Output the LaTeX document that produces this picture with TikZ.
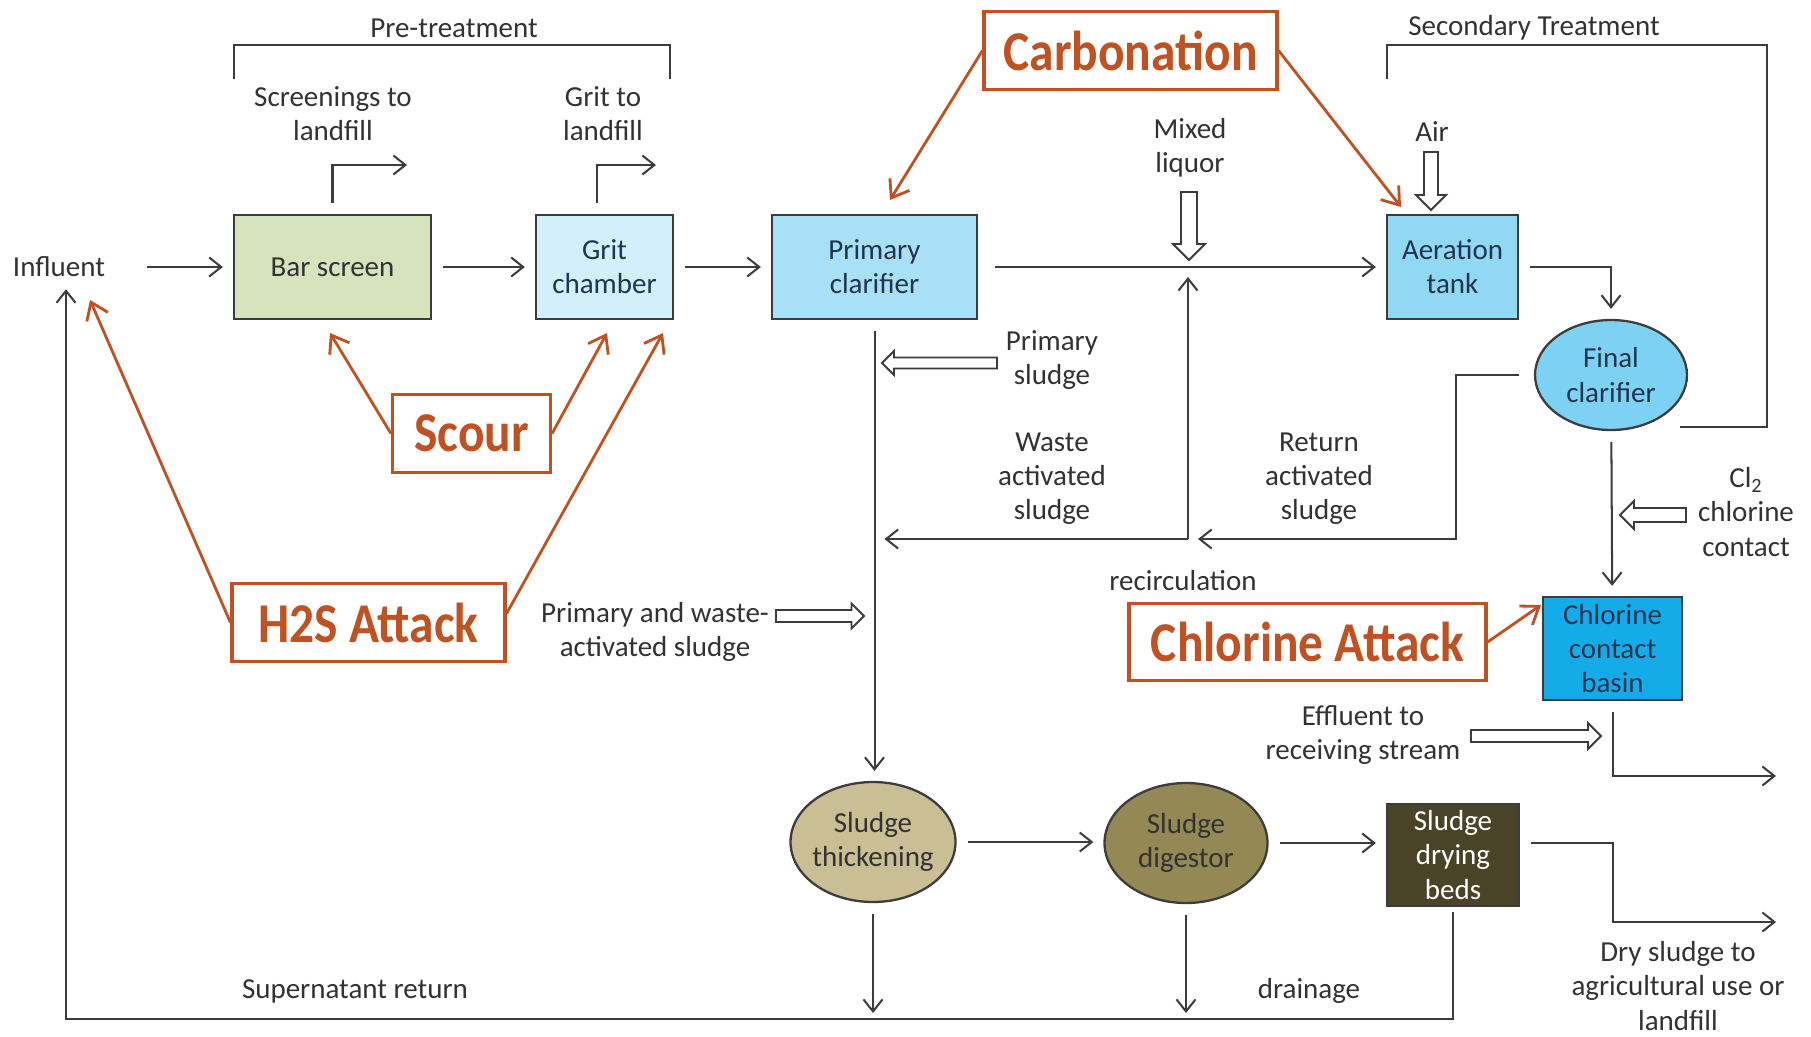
\documentclass[tikz,border=0pt]{standalone}
\usepackage{fontspec}
\setmainfont{Carlito}
\newfontfamily\calloutfont[FakeStretch=0.88]{Carlito}
\usetikzlibrary{arrows.meta,shapes.geometric}
\definecolor{linegray}{RGB}{60,60,60}
\definecolor{textgray}{RGB}{50,50,50}
\definecolor{navytext}{RGB}{30,52,80}
\definecolor{attack}{RGB}{193,81,32}
\definecolor{barfill}{RGB}{215,227,188}
\definecolor{gritfill}{RGB}{210,239,251}
\definecolor{primfill}{RGB}{168,225,247}
\definecolor{aerfill}{RGB}{145,216,245}
\definecolor{finfill}{RGB}{125,210,243}
\definecolor{basinfill}{RGB}{20,172,232}
\definecolor{thkfill}{RGB}{201,190,148}
\definecolor{digfill}{RGB}{148,137,84}
\definecolor{bedfill}{RGB}{73,67,40}
\tikzset{
  pics/hollowarrow/.style args={#1/#2/#3}{code={
    \draw[draw=linegray, line width=1.1pt, fill=white] (0,-#2) -- ({#1-#3},-#2) -- ({#1-#3},-#3) -- (#1,0) -- ({#1-#3},#3) -- ({#1-#3},#2) -- (0,#2) -- cycle;
  }}
}

\begin{document}
\begin{tikzpicture}[x=0.02cm, y=-0.02cm,
    font=\fontsize{16.5}{19.4}\selectfont, text=textgray,
    box/.style={draw=linegray, line width=1.3pt, align=center, minimum width=#1, minimum height=2.08cm, inner sep=2pt},
    tank/.style={ellipse, draw=linegray, line width=1.3pt, align=center, inner sep=1pt},
    lbl/.style={align=center, inner sep=1pt},
    flow/.style={draw=linegray, line width=1.15pt, -{Straight Barb[length=2.4mm,width=3.8mm]}, shorten <=0.22cm, shorten >=0.2cm},
    plain/.style={draw=linegray, line width=1.15pt},
    callout/.style={draw=attack, line width=1.8pt, text=attack, minimum width=#1, minimum height=1.55cm,
      font=\calloutfont\bfseries\fontsize{32}{34}\selectfont},
    hit/.style={draw=attack, line width=1.6pt, -{Straight Barb[length=3.2mm,width=4.6mm]}}]
  \useasboundingbox (0,0) rectangle (1811,1036);

  % Process units
  \node[box=3.94cm, fill=barfill] (barscreen) at (332.5,267) {Bar screen};
  \node[box=2.74cm, fill=gritfill, text=navytext] (grit) at (604.5,267) {Grit\\chamber};
  \node[box=4.1cm, fill=primfill, text=navytext] (primary) at (874.5,267) {Primary\\clarifier};
  \node[box=2.62cm, fill=aerfill, text=navytext] (aeration) at (1452.5,267) {Aeration\\tank};
  \node[tank, fill=finfill, text=navytext, minimum width=3.04cm, minimum height=2.2cm] (final) at (1611,375) {Final\\clarifier};
  \node[box=2.78cm, minimum height=2.06cm, fill=basinfill, text=navytext] (basin) at (1612.5,648.5) {Chlorine\\contact\\basin};
  \node[tank, fill=thkfill, inner xsep=-2.5pt, minimum width=3.3cm, minimum height=2.4cm] (thickening) at (873,842) {Sludge\\thickening};
  \node[tank, fill=digfill, minimum width=3.26cm, minimum height=2.4cm] (digestor) at (1186,843) {Sludge\\digestor};
  \node[box=2.64cm, minimum height=2.04cm, fill=bedfill, text=white] (beds) at (1453,855) {Sludge\\drying\\beds};

  % Labels
  \node[lbl] (influent) at (59,267) {Influent};
  \node[lbl] (pretreat) at (454,28) {Pre-treatment};
  \node[lbl] (sectreat) at (1534,28) {Secondary Treatment};
  \node[lbl] (screenings) at (333,114) {Screenings to\\landfill};
  \node[lbl] (grittxt) at (603,114) {Grit to\\landfill};
  \node[lbl] (mixed) at (1190,148) {Mixed\\liquor};
  \node[lbl] (air) at (1432,132) {Air};
  \node[lbl] (primsludge) at (1052,360) {Primary\\sludge};
  \node[lbl] (waste) at (1052,479) {Waste\\activated\\sludge};
  \node[lbl] (return) at (1319,479) {Return\\activated\\sludge};
  \node[lbl] (recirctxt) at (1183,581) {recirculation};
  \node[lbl] (pws) at (655,632) {Primary and waste-\\activated sludge};
  \node[lbl] (cl2) at (1746,512) {Cl\textsubscript{2}\\chlorine\\contact};
  \node[lbl] (effluent) at (1363,735) {Effluent to\\receiving stream};
  \node[lbl] (drysludge) at (1678,986) {Dry sludge to\\agricultural use or\\landfill};
  \node[lbl] (drainage) at (1309,991) {drainage};
  \node[lbl] (supernatant) at (355,991) {Supernatant return};

  % Brackets
  \draw[plain] (234,79) -- (234,45) -- (670,45) -- (670,79);
  \draw[plain] (1680,427) -- (1767,427) -- (1767,45) -- (1387,45) -- (1387,79);

  % Free ends
  \coordinate (scrout) at (417,165);
  \coordinate (gritout) at (666,165);
  \coordinate (mixpoint) at (1188,267);
  \coordinate (junction) at (1188,539);
  \coordinate (retbend) at (1456,375);
  \coordinate (effout) at (1786,776);
  \coordinate (dryout) at (1786,922);
  \coordinate (thkdown) at (873,1023);
  \coordinate (digdown) at (1186,1023);
  \coordinate (botleft) at (66,1019);

  % Flow lines
  \draw[flow, shorten <=0.8cm] (influent) -- (barscreen);
  \draw[flow] (barscreen) -- (grit);
  \draw[flow] (grit) -- (primary);
  \draw[flow, shorten <=0.34cm] (primary) -- (aeration);
  \draw[flow] (barscreen.north) |- (scrout);
  \draw[flow] ([xshift=-0.15cm]grit.north) |- (gritout);
  \draw[flow] (aeration.east) -| (final.north);
  \draw[flow] (final) -- (basin);
  \draw[flow] (basin.south) |- (effout);
  \draw[flow, shorten <=0.3cm] (final.west) -- (retbend) |- (junction);
  \draw[flow, shorten <=0pt] (junction) -- (mixpoint);
  \draw[flow, shorten <=0pt] (junction) -- (junction -| primary.south);
  \draw[flow] (primary.south) -- (primary.south |- thickening.north);
  \draw[flow] (thickening.east) -- (thickening.east -| digestor.west);
  \draw[flow] (digestor.east) -- (digestor.east -| beds.west);
  \draw[flow] ([yshift=0.24cm]beds.east) -| ([yshift=0.24cm]beds.east -| basin.south) |- (dryout);
  \draw[flow] (thickening) -- (thkdown);
  \draw[flow] (digestor) -- (digdown);
  \draw[flow, shorten <=0.1cm] (beds.south) |- (botleft) -- (botleft |- influent.south);

  % Hollow arrows
  \pic[rotate=-90] at (1189,192) {hollowarrow=68/8/16};
  \pic[rotate=-90] at (1431,152) {hollowarrow=58/7/15};
  \pic[rotate=180] at (997,363) {hollowarrow=115/5.5/12};
  \pic[rotate=180] at (1686,515) {hollowarrow=66/7/14};
  \pic at (776,616) {hollowarrow=88/6/12.5};
  \pic at (1471,736) {hollowarrow=130/6/13};

  % Attack callouts
  \node[callout=5.86cm] (carbonation) at (1130.5,50.5) {Carbonation};
  \node[callout=3.16cm] (scour) at (471.5,433.5) {Scour};
  \node[callout=5.46cm] (h2s) at (368.5,622.5) {H2S Attack};
  \node[callout=7.14cm] (chlorine) at (1307.5,642) {Chlorine Attack};

  \coordinate (carbA) at (890,200);
  \coordinate (carbB) at (1401,207);
  \coordinate (scourA) at (330,333);
  \coordinate (scourB) at (607,333);
  \coordinate (h2sA) at (90,300);
  \coordinate (h2sB) at (663,333);
  \coordinate (clA) at (1541,605);

  \draw[hit] (carbonation.west) -- (carbA);
  \draw[hit] (carbonation.east) -- (carbB);
  \draw[hit] (scour.west) -- (scourA);
  \draw[hit] (scour.east) -- (scourB);
  \draw[hit] (h2s.west) -- (h2sA);
  \draw[hit] ([yshift=0.18cm]h2s.east) -- (h2sB);
  \draw[hit] (chlorine.east) -- (clA);
\end{tikzpicture}
\end{document}
